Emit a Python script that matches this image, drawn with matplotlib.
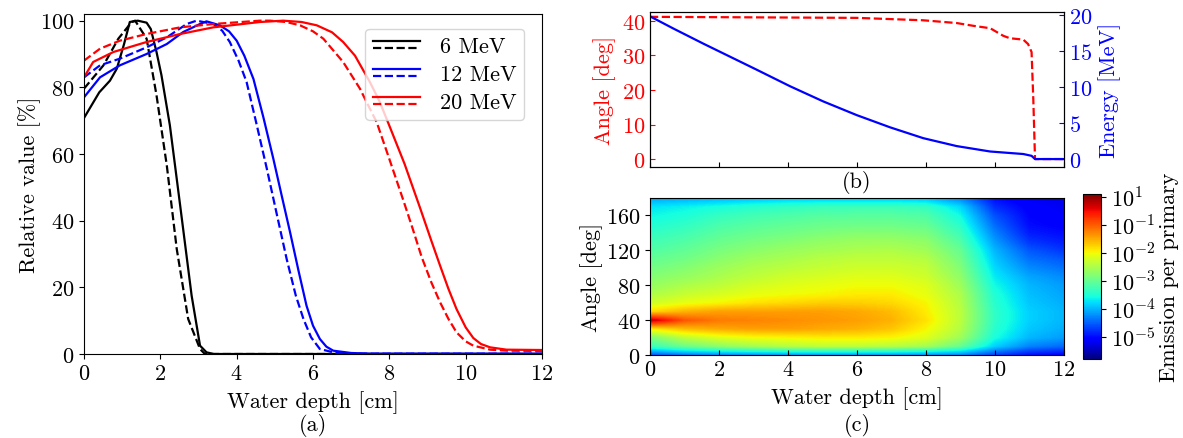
import numpy as np
import matplotlib
matplotlib.use("Agg")
import matplotlib.pyplot as plt
from matplotlib.colors import Normalize, LogNorm
from matplotlib.cm import ScalarMappable
from matplotlib.legend_handler import HandlerBase
from matplotlib.lines import Line2D

plt.rcParams["font.family"] = "serif"
plt.rcParams["font.serif"] = ["cmr10"]
plt.rcParams["mathtext.fontset"] = "cm"
plt.rcParams["axes.formatter.use_mathtext"] = True
plt.rcParams["axes.unicode_minus"] = False
plt.rcParams["font.size"] = 16

# --- (a) depth-dose curves, solid and dashed per beam energy ---
energies = ["6 MeV", "12 MeV", "20 MeV"]
colors = ["black", "blue", "red"]

depth_6_solid = [0, 0.4, 0.68, 0.86, 1.05, 1.2, 1.41, 1.64, 1.75, 1.9, 2.03, 2.25, 2.52, 2.82, 3.04, 3.21, 3.4, 12]
dose_6_solid = [70.8, 78.5, 82, 85.6, 93, 99.6, 100, 99.4, 97.5, 90.6, 83.6, 68.6, 44.5, 17.5, 2.5, 0.5, 0, 0]
depth_6_dash = [0, 0.51, 0.9, 1.25, 1.34, 1.64, 1.9, 2.17, 2.43, 2.73, 3.04, 3.15, 3.3, 12]
dose_6_dash = [79.6, 86.6, 94.6, 99.6, 100, 94.6, 77.6, 56.5, 31.5, 10.5, 1.5, 0.2, 0, 0]

depth_12_solid = [0, 0.42, 0.94, 1.64, 2.17, 2.6, 3.04, 3.21, 3.56, 3.8, 4.0, 4.2, 4.44, 4.7, 4.96, 5.2, 5.4,
                  5.62, 5.83, 6.0, 6.18, 6.35, 6.53, 7.0, 7.5, 12]
dose_12_solid = [77, 83, 86.6, 90, 93, 96.6, 99, 99.8, 98.6, 96.8, 94, 89.5, 82.5, 71, 58.6, 46.5, 36.5,
                 25, 14.5, 8.5, 4.5, 2.2, 1.0, 0.3, 0.1, 0.1]
depth_12_dash = [0, 0.42, 0.94, 1.64, 2.17, 2.69, 2.95, 3.39, 3.62, 3.82, 4.05, 4.26, 4.5, 4.79, 5.05, 5.31,
                 5.55, 5.75, 5.95, 6.18, 6.6, 7.0, 12]
dose_12_dash = [83, 86.6, 88.6, 92, 95, 99, 100, 99, 97, 93.6, 88, 81.6, 70, 55.6, 42, 28.5,
                17.5, 10.5, 5, 1.5, 0.3, 0.1, 0.1]

depth_20_solid = [0, 0.24, 0.77, 1.64, 2.52, 3.39, 4.61, 5.22, 5.7, 6.1, 6.5, 6.79, 7.1, 7.49, 7.75, 8.0, 8.4,
                  8.8, 9.1, 9.33, 9.55, 9.76, 10.0, 10.2, 10.4, 10.64, 11.07, 12]
dose_20_solid = [83, 87.6, 90.6, 93.6, 96, 98, 99.6, 100, 99.6, 98.6, 96.5, 93.6, 89.5, 81.6, 75.6, 68.5, 57,
                 44, 34, 26.5, 19.5, 13.5, 8, 4.8, 3, 2.0, 1.3, 1.2]
depth_20_dash = [0, 0.42, 0.94, 1.64, 2.52, 3.39, 4.61, 4.87, 5.3, 5.66, 6.0, 6.27, 6.79, 7.23, 7.49, 7.67,
                 8.0, 8.37, 8.6, 8.85, 9.1, 9.33, 9.55, 9.76, 10.0, 10.2, 10.64, 11.07, 12]
dose_20_dash = [88, 91.6, 94, 96, 98, 99, 100, 100, 99.6, 98.6, 96.8, 94.6, 87.6, 79.6, 73.6, 69.5,
                58.5, 46, 38, 29, 21.5, 15.5, 10.5, 6.5, 3.8, 2.5, 1.3, 1.0, 0.9]

# --- (b) mean emission angle and residual energy along depth ---
depth_angle = [0, 6.0, 7.92, 8.89, 9.37, 9.86, 10.24, 10.43, 10.82, 10.96, 11.06, 11.11, 11.16, 12]
mean_angle = [41.2, 40.9, 40.2, 39.4, 38.6, 37.9, 35.7, 35.0, 34.6, 33.3, 31.0, 17.4, 0, 0]
depth_energy = [0, 0.68, 1.55, 2.32, 3.09, 4.06, 5.02, 5.99, 6.96, 7.92, 8.89, 9.86, 10.82, 11.06, 11.16, 12]
mean_energy = [19.8, 18.1, 16.0, 14.2, 12.4, 10.1, 8.0, 6.1, 4.4, 2.9, 1.8, 1.05, 0.7, 0.45, 0, 0]

# --- (c) log10 emission per primary; rows = angle 0..180 step 10, cols = depth 0..12 cm ---
map_depth = list(range(13))
map_angle = list(range(0, 181, 10))
log_emission = [
    [-4.60, -4.40, -4.30, -4.25, -4.20, -4.20, -4.20, -4.20, -4.25, -4.30, -4.70, -5.00, -5.10],
    [-3.32, -2.97, -2.73, -2.56, -2.44, -2.38, -2.38, -2.44, -2.56, -3.00, -3.85, -4.30, -4.45],
    [-2.85, -2.38, -2.14, -2.02, -1.97, -1.91, -1.91, -1.97, -2.14, -2.60, -3.55, -4.00, -4.15],
    [-1.91, -1.61, -1.49, -1.43, -1.43, -1.49, -1.55, -1.67, -1.97, -2.45, -3.45, -3.90, -4.05],
    [-0.20, -0.96, -1.20, -1.26, -1.32, -1.38, -1.43, -1.55, -1.85, -2.40, -3.40, -3.85, -4.00],
    [-1.79, -1.55, -1.43, -1.43, -1.43, -1.43, -1.49, -1.61, -1.91, -2.40, -3.40, -3.85, -4.00],
    [-2.26, -2.08, -1.97, -1.85, -1.79, -1.73, -1.73, -1.79, -1.97, -2.45, -3.45, -3.90, -4.05],
    [-2.50, -2.32, -2.20, -2.08, -2.02, -1.97, -1.91, -1.91, -2.08, -2.50, -3.50, -3.95, -4.10],
    [-2.67, -2.50, -2.38, -2.22, -2.14, -2.08, -2.02, -2.02, -2.14, -2.60, -3.60, -4.00, -4.15],
    [-2.79, -2.67, -2.52, -2.38, -2.26, -2.20, -2.14, -2.14, -2.26, -2.70, -3.70, -4.10, -4.25],
    [-2.91, -2.79, -2.62, -2.48, -2.40, -2.32, -2.26, -2.26, -2.34, -2.80, -3.80, -4.25, -4.40],
    [-3.03, -2.92, -2.75, -2.60, -2.52, -2.42, -2.36, -2.36, -2.44, -2.90, -3.90, -4.40, -4.55],
    [-3.15, -3.04, -2.86, -2.74, -2.64, -2.56, -2.50, -2.48, -2.58, -3.00, -4.00, -4.55, -4.75],
    [-3.26, -3.15, -2.98, -2.86, -2.78, -2.68, -2.62, -2.62, -2.70, -3.15, -4.15, -4.75, -4.90],
    [-3.38, -3.27, -3.10, -3.00, -2.92, -2.84, -2.78, -2.78, -2.86, -3.30, -4.30, -4.90, -5.00],
    [-3.50, -3.40, -3.22, -3.12, -3.05, -2.98, -2.96, -2.96, -3.02, -3.45, -4.45, -5.00, -5.10],
    [-3.62, -3.52, -3.36, -3.26, -3.18, -3.12, -3.10, -3.10, -3.16, -3.60, -4.60, -5.05, -5.15],
    [-3.74, -3.66, -3.55, -3.45, -3.38, -3.32, -3.30, -3.30, -3.36, -3.80, -4.80, -5.10, -5.20],
    [-4.10, -4.05, -4.00, -3.95, -3.90, -3.90, -3.90, -3.90, -3.95, -4.30, -5.00, -5.20, -5.25],
]
log_vmin, log_vmax = -5.8, 0.1
cbar_ticks = [1, 1e-1, 1e-2, 1e-3, 1e-4, 1e-5]
cbar_labels = ["$10^{1}$", "$10^{-1}$", "$10^{-2}$", "$10^{-3}$", "$10^{-4}$", "$10^{-5}$"]


class StackedHandler(HandlerBase):
    """Legend entry with the solid line drawn above the dashed one."""
    def create_artists(self, legend, orig_handle, xdescent, ydescent,
                       width, height, fontsize, trans):
        artists = []
        for line, frac in zip(orig_handle, (0.72, 0.22)):
            y = height * frac - ydescent
            seg = Line2D([-xdescent, width - xdescent], [y, y])
            seg.update_from(line)
            seg.set_transform(trans)
            artists.append(seg)
        return artists


W, H = 1183, 439
fig = plt.figure(figsize=(W / 100, H / 100), dpi=100)

ax_a = fig.add_axes([84 / W, 1 - 355 / H, 458 / W, 340 / H])
ax_b = fig.add_axes([650 / W, 1 - 168 / H, 414 / W, 155 / H])
ax_c = fig.add_axes([650 / W, 1 - 356 / H, 414 / W, 157 / H])
cax = fig.add_axes([1083 / W, 1 - 360 / H, 18 / W, 165 / H])

# (a)
curves = [
    (depth_6_solid, dose_6_solid, depth_6_dash, dose_6_dash),
    (depth_12_solid, dose_12_solid, depth_12_dash, dose_12_dash),
    (depth_20_solid, dose_20_solid, depth_20_dash, dose_20_dash),
]
handles = []
for (xs, ys, xd, yd), c in zip(curves, colors):
    l1, = ax_a.plot(xs, ys, color=c, lw=1.6)
    l2, = ax_a.plot(xd, yd, color=c, lw=1.6, ls="--")
    handles.append((l1, l2))
ax_a.set_xlim(0, 12)
ax_a.set_ylim(0, 102)
ax_a.set_xticks(range(0, 13, 2))
ax_a.set_yticks(range(0, 101, 20))
ax_a.set_xlabel("Water depth [cm]", labelpad=5)
ax_a.set_ylabel("Relative value [%]", labelpad=-1)
ax_a.legend(handles, energies, handler_map={tuple: StackedHandler()},
            loc="upper right", handlelength=2.1, handletextpad=0.9,
            borderpad=0.35, labelspacing=0.38, bbox_to_anchor=(0.985, 0.99))
fig.text(313 / W, 1 - 426 / H, "(a)", ha="center", va="center")

# (b)
ax_b.plot(depth_angle, mean_angle, color="red", ls="--", lw=1.6)
ax_b.set_xlim(0, 12)
ax_b.set_ylim(-2.3, 42.6)
ax_b.set_xticks(range(0, 13, 2))
ax_b.set_xticklabels([])
ax_b.set_yticks(range(0, 41, 10))
ax_b.tick_params(direction="in")
ax_b.tick_params(axis="y", colors="red")
ax_b.set_ylabel("Angle [deg]", color="red", labelpad=4)
ax_b2 = ax_b.twinx()
ax_b2.plot(depth_energy, mean_energy, color="blue", lw=1.6)
ax_b2.set_ylim(-1.1, 20.4)
ax_b2.set_yticks(range(0, 21, 5))
ax_b2.tick_params(direction="in", colors="blue")
ax_b2.set_ylabel("Energy [MeV]", color="blue", labelpad=4)
fig.text(857 / W, 1 - 183 / H, "(b)", ha="center", va="center")

# (c)
img = np.array(log_emission)
ax_c.imshow(img, origin="lower", aspect="auto", cmap="jet",
            norm=Normalize(log_vmin, log_vmax),
            extent=(map_depth[0] - 0.5, map_depth[-1] + 0.5,
                    map_angle[0] - 5, map_angle[-1] + 5),
            interpolation="bilinear", interpolation_stage="data")
ax_c.set_xlim(0, 12)
ax_c.set_ylim(0, 180)
ax_c.set_xticks(range(0, 13, 2))
ax_c.set_yticks(range(0, 161, 40))
ax_c.tick_params(axis="x", direction="in")
ax_c.set_xlabel("Water depth [cm]", labelpad=5)
ax_c.set_ylabel("Angle [deg]", labelpad=2)
fig.text(857 / W, 1 - 426 / H, "(c)", ha="center", va="center")

sm = ScalarMappable(norm=LogNorm(10 ** log_vmin, 10 ** log_vmax), cmap="jet")
cbar = fig.colorbar(sm, cax=cax)
cbar.set_ticks(cbar_ticks, labels=cbar_labels)
cbar.set_label("Emission per primary", labelpad=3)

fig.savefig("out.png", dpi=100)
